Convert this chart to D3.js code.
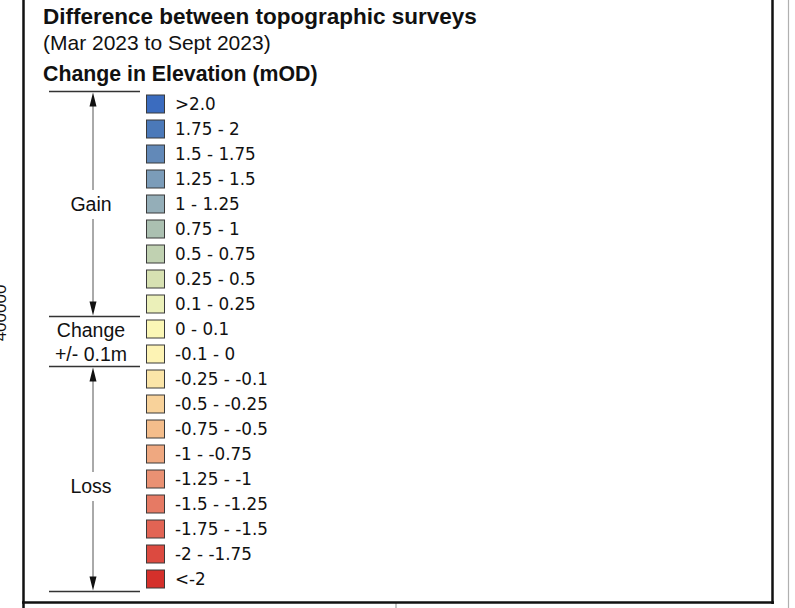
<!DOCTYPE html>
<html><head><meta charset="utf-8">
<script src="https://cdn.jsdelivr.net/npm/d3@7"></script>
<style>html,body{margin:0;padding:0;background:#fff;overflow:hidden}</style>
</head><body>
<svg id="chart" width="795" height="608"></svg>
<script>
const title = "Difference between topographic surveys";
const subtitle = "(Mar 2023 to Sept 2023)";
const heading = "Change in Elevation (mOD)";
const sideLabel = "400000";
const classLabels = [">2.0","1.75 - 2","1.5 - 1.75","1.25 - 1.5","1 - 1.25","0.75 - 1","0.5 - 0.75","0.25 - 0.5","0.1 - 0.25","0 - 0.1","-0.1 - 0","-0.25 - -0.1","-0.5 - -0.25","-0.75 - -0.5","-1 - -0.75","-1.25 - -1","-1.5 - -1.25","-1.75 - -1.5","-2 - -1.75","<-2"];
const classColors = ["#3b6cbf","#4b79b9","#6289b8","#7b9cb9","#94aeb8","#abc0b1","#c0d1b1","#d7e1b2","#ebf0b9","#fbf7b6","#fdf3b4","#fbe5a8","#f8d29a","#f4bd8b","#efa880","#ea9173","#e67a64","#e26454","#dc4a40","#d5302b"];
const groupNames = [["Gain"],["Change","+/- 0.1m"],["Loss"]];
const groupFirst = [0, 9, 11];
const groupLast = [8, 10, 19];
const groupArrows = [true, false, true];

const svg = d3.select("#chart");
const fontA = "'Liberation Sans', Arial, sans-serif";
const fontB = "'DejaVu Sans', Verdana, sans-serif";

// frame
svg.append("line").attr("x1",788.5).attr("x2",788.5).attr("y1",0).attr("y2",608).attr("stroke","#b0b0b0").attr("stroke-width",1.2);
svg.append("line").attr("x1",396).attr("x2",396).attr("y1",603).attr("y2",608).attr("stroke","#a0a0a0").attr("stroke-width",1.2);
svg.append("line").attr("x1",23.5).attr("x2",23.5).attr("y1",0).attr("y2",608).attr("stroke","#111").attr("stroke-width",2.5);
svg.append("line").attr("x1",772.5).attr("x2",772.5).attr("y1",0).attr("y2",604).attr("stroke","#111").attr("stroke-width",2.5);
svg.append("line").attr("x1",22).attr("x2",774).attr("y1",602.5).attr("y2",602.5).attr("stroke","#111").attr("stroke-width",2.5);

// side coordinate label (clipped at page edge, as in the reference)
svg.append("text").attr("transform","translate(6,313) rotate(-90)")
  .attr("text-anchor","middle").attr("font-family",fontA).attr("font-size",17).attr("fill","#111").text(sideLabel);

// titles
svg.append("text").attr("x",43).attr("y",24).attr("font-family",fontA).attr("font-weight","bold").attr("font-size",22.5).attr("fill","#111").text(title);
svg.append("text").attr("x",43).attr("y",50).attr("font-family",fontA).attr("font-size",21).attr("fill","#111").text(subtitle);
svg.append("text").attr("x",43).attr("y",81).attr("font-family",fontA).attr("font-weight","bold").attr("font-size",21.3).attr("fill","#111").text(heading);

// rows
const y = d3.scaleBand().domain(classLabels).range([91.5, 591.5]);
const bw = y.bandwidth();
const rows = svg.append("g").selectAll("g").data(classLabels).join("g")
  .attr("transform", d => `translate(0,${y(d)})`);
rows.append("rect").attr("x",146.5).attr("y",3.5).attr("width",18).attr("height",18)
  .attr("fill",(d,i)=>classColors[i]).attr("stroke","#3a3a3a").attr("stroke-width",1);
rows.append("text").attr("x",175).attr("y",bw/2+6).attr("font-family",fontB).attr("font-size",16.8).attr("fill","#111").text(d=>d);

// brackets
const bounds = new Set();
groupFirst.forEach((f,i)=>{ bounds.add(y(classLabels[f])); bounds.add(y(classLabels[groupLast[i]])+bw); });
svg.append("g").selectAll("line").data([...bounds]).join("line")
  .attr("x1",49).attr("x2",140).attr("y1",d=>d).attr("y2",d=>d).attr("stroke","#333").attr("stroke-width",1.6);

const ax = 93;
groupNames.forEach((names,i)=>{
  const top = y(classLabels[groupFirst[i]]);
  const bot = y(classLabels[groupLast[i]]) + bw;
  let mid = (top+bot)/2;
  if (i===2) mid += 7;
  const lh = 24;
  const firstBase = mid + 7 - (names.length-1)*lh/2;
  names.forEach((n,j)=>{
    svg.append("text").attr("x",91).attr("y",firstBase + j*lh).attr("text-anchor","middle")
      .attr("font-family",fontA).attr("font-size",19.5).attr("fill","#111").text(n);
  });
  if (groupArrows[i]) {
    const g = svg.append("g");
    g.append("line").attr("x1",ax).attr("x2",ax).attr("y1",top+10).attr("y2",mid-14).attr("stroke","#555").attr("stroke-width",1);
    g.append("line").attr("x1",ax).attr("x2",ax).attr("y1",mid+15).attr("y2",bot-10).attr("stroke","#555").attr("stroke-width",1);
    g.append("path").attr("d",`M${ax},${top+1}L${ax-3.5},${top+15}L${ax+3.5},${top+15}Z`).attr("fill","#111");
    g.append("path").attr("d",`M${ax},${bot-1}L${ax-3.5},${bot-15}L${ax+3.5},${bot-15}Z`).attr("fill","#111");
  }
});
</script>
</body></html>
